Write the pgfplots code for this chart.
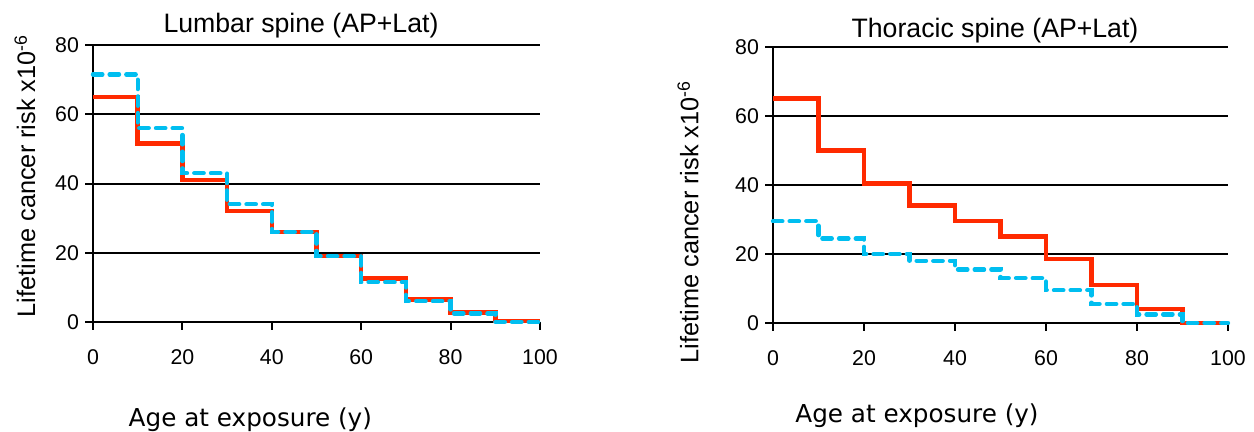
\documentclass[border=0pt]{standalone}
\usepackage{fontspec}
\setmainfont{Liberation Sans}
\newfontfamily\labelfont{DejaVu Sans}
\usepackage{pgfplots}
\pgfplotsset{compat=1.18}
\definecolor{riskred}{HTML}{FF2A00}
\definecolor{riskblue}{HTML}{00BEF0}

\newcommand\tickfont{\fontsize{16}{18}\selectfont}

\pgfplotsset{
  spine/.style={
    scale only axis,
    axis lines*=left,
    axis line style={-, line width=1.5pt, black},
    xmin=0, xmax=100, ymin=0, ymax=80,
    xtick={0,20,...,100}, ytick={0,20,...,80},
    minor tick num=0,
    tick align=outside,
    major tick length=6pt,
    tick style={line width=1.5pt, black},
    ymajorgrids,
    grid style={line width=1.5pt, black},
    /pgf/number format/assume math mode=true,
    xticklabel style={font=\tickfont, yshift=-11pt},
    yticklabel style={font=\tickfont, xshift=-1pt},
    clip=false,
  },
  red step/.style={const plot, color=riskred, line width=3.4pt, line join=miter},
  blue step/.style={const plot, color=riskblue, line width=3.3pt,
    dash pattern=on 7pt off 5.5pt, line cap=round},
}

\begin{document}
\begin{tikzpicture}
  \path[use as bounding box] (-69.75pt,-82.5pt) rectangle (870.75pt,241.5pt);

  % Lumbar spine
  \begin{axis}[spine, name=lumbar, at={(0pt,0pt)}, anchor=origin,
      width=335.25pt, height=207.75pt]
    \addplot[red step] coordinates {
      (0,65) (10,51.5) (20,41) (30,32) (40,26) (50,19)
      (60,12.5) (70,6.5) (80,2.8) (90,0.3) (100,0.3)
    };
    \addplot[blue step] coordinates {
      (0,71.5) (10,56) (20,43) (30,34) (40,26) (50,19)
      (60,11.5) (70,6) (80,2.5) (90,0) (100,0)
    };
  \end{axis}

  % Thoracic spine
  \begin{axis}[spine, name=thoracic, at={(510pt,-0.75pt)}, anchor=origin,
      width=341.25pt, height=207pt]
    \addplot[red step] coordinates {
      (0,65) (10,50) (20,40.5) (30,34) (40,29.5) (50,25)
      (60,18.5) (70,11) (80,4) (90,0) (100,0)
    };
    \addplot[blue step] coordinates {
      (0,29.5) (10,24.5) (20,20) (30,18) (40,15.5) (50,13)
      (60,9.5) (70,5.5) (80,2.5) (90,0) (100,0)
    };
  \end{axis}

  \node[anchor=base, font=\fontsize{20}{22}\selectfont] at (156pt,216.75pt)
    {Lumbar spine (AP+Lat)};
  \node[anchor=base, font=\fontsize{20}{22}\selectfont] at (676.5pt,213pt)
    {Thoracic spine (AP+Lat)};
  \node[anchor=base, font=\labelfont\fontsize{18.5}{21}\selectfont] at (118pt,-78pt)
    {Age at exposure (y)};
  \node[anchor=base, font=\labelfont\fontsize{18.5}{21}\selectfont] at (618pt,-75.75pt)
    {Age at exposure (y)};
  \node[rotate=90, font=\fontsize{19}{21}\selectfont] at (-51pt,109.5pt)
    {Lifetime cancer risk x10\textsuperscript{-6}};
  \node[rotate=90, font=\fontsize{19}{21}\selectfont] at (446.25pt,75pt)
    {Lifetime cancer risk x10\textsuperscript{-6}};
\end{tikzpicture}
\end{document}
